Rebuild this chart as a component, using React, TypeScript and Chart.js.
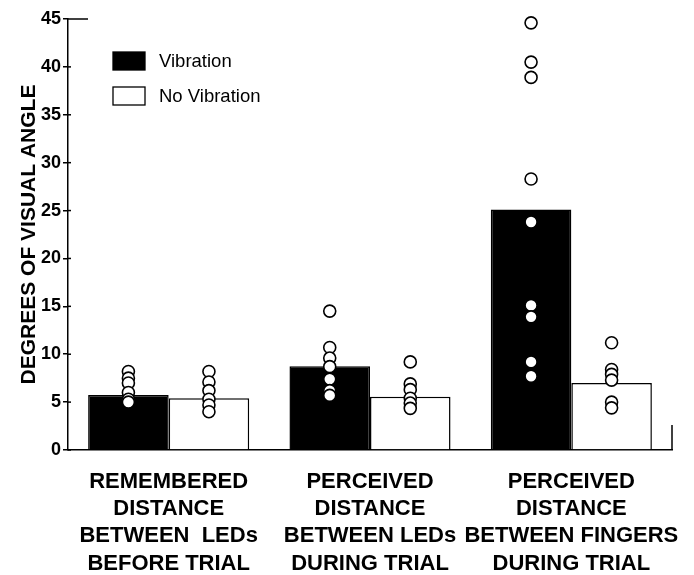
import React, { useEffect, useRef } from "react";
import { Chart, registerables } from "chart.js";

Chart.register(...registerables);

const categories: string[][] = [
  ["REMEMBERED", "DISTANCE", "BETWEEN  LEDs", "BEFORE TRIAL"],
  ["PERCEIVED", "DISTANCE", "BETWEEN LEDs", "DURING TRIAL"],
  ["PERCEIVED", "DISTANCE", "BETWEEN FINGERS", "DURING TRIAL"],
];
const seriesNames = ["Vibration", "No Vibration"];
const vibrationMeans = [5.75, 8.75, 25.1];
const noVibrationMeans = [5.4, 5.55, 7.0];
const vibrationPoints: number[][] = [
  [8.2, 7.5, 7.0, 6.0, 5.3, 5.0],
  [14.5, 10.7, 9.6, 8.7, 7.4, 6.2, 5.7],
  [44.6, 40.5, 38.9, 28.3, 23.8, 15.1, 13.9, 9.2, 7.7],
];
const noVibrationPoints: number[][] = [
  [8.2, 7.1, 6.2, 5.3, 4.7, 4.0],
  [9.2, 6.9, 6.3, 5.4, 4.9, 4.35],
  [11.2, 8.4, 7.9, 7.3, 5.0, 4.4],
];
const yMin = 0;
const yMax = 45;
const yStep = 5;
const yTitle = "DEGREES OF VISUAL ANGLE";

const FONT = "'Liberation Sans', Arial, Helvetica, sans-serif";

const overlayPlugin = {
  id: "overlay",
  afterDatasetsDraw(chart: any) {
    const ctx = chart.ctx;
    const ys = chart.scales.y;
    ctx.save();
    [vibrationPoints, noVibrationPoints].forEach((groups, di) => {
      const meta = chart.getDatasetMeta(di);
      groups.forEach((vals, ci) => {
        const bar = meta.data[ci];
        vals.forEach((v) => {
          ctx.beginPath();
          ctx.arc(bar.x, ys.getPixelForValue(v), 6, 0, Math.PI * 2);
          ctx.fillStyle = "#ffffff";
          ctx.fill();
          ctx.lineWidth = 1.6;
          ctx.strokeStyle = "#000000";
          ctx.stroke();
        });
      });
    });
    ctx.restore();
  },
  afterDraw(chart: any) {
    const ctx = chart.ctx;
    const ys = chart.scales.y;
    const area = chart.chartArea;
    ctx.save();
    ctx.strokeStyle = "#000";
    ctx.lineWidth = 1.5;
    // inner tick parts
    ys.ticks.forEach((t: any) => {
      const py = ys.getPixelForValue(t.value);
      ctx.beginPath();
      ctx.moveTo(area.left, py);
      ctx.lineTo(area.left + (t.value === yMax ? 20 : 3), py);
      ctx.stroke();
    });
    // right end tick of x axis
    ctx.beginPath();
    ctx.moveTo(area.right, area.bottom);
    ctx.lineTo(area.right, area.bottom - 25);
    ctx.stroke();
    // legend
    const ds = chart.data.datasets;
    const lx = 113;
    const rows = [52, 87];
    ds.forEach((d: any, i: number) => {
      const top = rows[i];
      ctx.fillStyle = d.backgroundColor;
      ctx.fillRect(lx, top, 32, 18);
      ctx.lineWidth = 1.3;
      ctx.strokeStyle = "#000";
      ctx.strokeRect(lx, top, 32, 18);
      ctx.fillStyle = "#000";
      ctx.font = `18.5px ${FONT}`;
      ctx.textBaseline = "middle";
      ctx.textAlign = "left";
      ctx.fillText(d.label, 159, top + 9.5);
    });
    ctx.restore();
  },
};

export default function App() {
  const ref = useRef<HTMLCanvasElement | null>(null);

  useEffect(() => {
    document.body.style.margin = "0";
    const canvas = ref.current;
    if (!canvas) return;
    const chart = new Chart(canvas, {
      type: "bar",
      data: {
        labels: categories,
        datasets: [
          {
            label: seriesNames[0],
            data: vibrationMeans,
            backgroundColor: "#000000",
            borderColor: "#000000",
            borderWidth: 1.5,
            categoryPercentage: 0.8,
            barPercentage: 1.0,
          },
          {
            label: seriesNames[1],
            data: noVibrationMeans,
            backgroundColor: "#ffffff",
            borderColor: "#000000",
            borderWidth: 1.5,
            categoryPercentage: 0.8,
            barPercentage: 1.0,
          },
        ],
      },
      options: {
        responsive: false,
        animation: false,
        devicePixelRatio: 1,
        layout: { padding: { top: 19, right: 22, left: 0, bottom: 0 } },
        plugins: {
          legend: { display: false },
          tooltip: { enabled: false },
          title: { display: false },
        },
        scales: {
          x: {
            grid: { display: false },
            border: { display: true, color: "#000", width: 1.5 },
            ticks: {
              color: "#000",
              padding: 10,
              maxRotation: 0,
              autoSkip: false,
              font: { family: FONT, size: 22, weight: "bold", lineHeight: 1.24 },
            },
            afterFit: (s: any) => {
              s.height = 125;
            },
          },
          y: {
            min: yMin,
            max: yMax,
            ticks: {
              stepSize: yStep,
              color: "#000",
              padding: 2,
              font: { family: FONT, size: 18, weight: "bold" },
            },
            grid: {
              drawOnChartArea: false,
              drawTicks: true,
              tickLength: 5,
              color: "#000",
              lineWidth: 1.5,
            },
            border: { display: true, color: "#000", width: 1.5 },
            title: {
              display: true,
              text: yTitle,
              color: "#000",
              font: { family: FONT, size: 21, weight: "bold" },
              padding: { top: 17, bottom: 0 },
            },
            afterFit: (s: any) => {
              s.width = 68;
            },
          },
        },
      },
      plugins: [overlayPlugin],
    });
    return () => chart.destroy();
  }, []);

  return (
    <div style={{ width: 694, height: 575, background: "#fff" }}>
      <canvas ref={ref} width={694} height={575} style={{ display: "block" }} />
    </div>
  );
}
